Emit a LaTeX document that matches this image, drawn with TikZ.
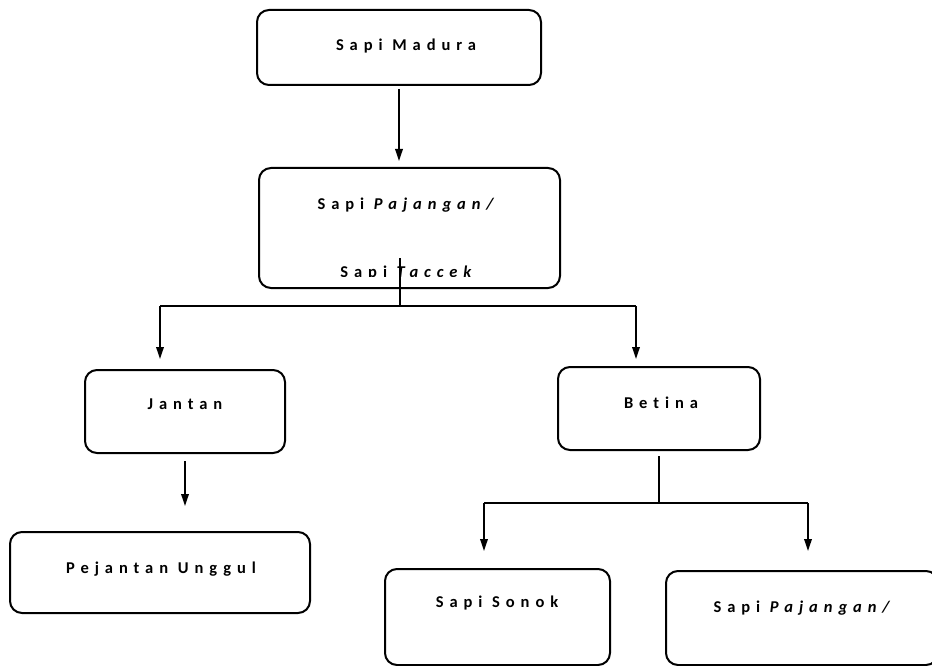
\documentclass[tikz,border=0pt]{standalone}
\usepackage{fontspec}
\setmainfont{Carlito}[LetterSpace=36,Ligatures={NoCommon,NoRare}]
\usetikzlibrary{arrows.meta,calc}
\begin{document}
\begin{tikzpicture}[x=1pt,y=-1pt,
  box/.style={draw,line width=2pt,rounded corners=12pt,inner sep=0pt},
  lbl/.style={font=\bfseries\fontsize{16.5}{19}\selectfont,anchor=base,inner sep=0pt},
  conn/.style={line width=1.8pt},
  arr/.style={conn,-{Triangle[length=12pt,width=7.5pt]}}]
\useasboundingbox (0,0) rectangle (932,666);
% boxes
\node[box,minimum width=284pt,minimum height=75pt] (b1) at (399,47.5) {};
\node[box,minimum width=301pt,minimum height=120pt] (b2) at (409.5,228) {};
\node[box,minimum width=200pt,minimum height=83pt] (jantan) at (185,411.5) {};
\node[box,minimum width=300pt,minimum height=81pt] (pejantan) at (160,572.5) {};
\node[box,minimum width=202pt,minimum height=83pt] (betina) at (659,408.5) {};
\node[box,minimum width=225pt,minimum height=96pt] (sonok) at (497.5,617) {};
\node[box,minimum width=272pt,minimum height=94pt] (pajangan) at (802,618) {};
% labels
\node[lbl] (t1) at (406,51) {Sapi Madura};
\node[lbl] (t2) at (409,209) {Sapi \textit{Pajangan/}};
\begin{scope}
  \clip (0,0) rectangle (932,276.5);
  \node[lbl] (t3) at (409,277) {Sapi \textit{Taccek}};
\end{scope}
\node[lbl] (t4) at (185,409) {Jantan};
\node[lbl] (t5) at (161,573) {Pejantan Unggul};
\node[lbl] (t6) at (661,408) {Betina};
\node[lbl] (t7) at (497,607) {Sapi Sonok};
\node[lbl] (t8) at (805,612) {Sapi \textit{Pajangan/}};
% connectors
\draw[arr,shorten <=3pt,shorten >=6pt] (b1.south) -- (b1.south |- b2.north);
\coordinate (s2) at (400,258);
\coordinate (j1) at (400,306);
\coordinate (jl) at (160,306);
\coordinate (jr) at (636,306);
\draw[conn] (s2) -- (j1);
\draw[conn] (jl) -- (jr);
\draw[arr,shorten >=10pt] (jl) -- (jl |- jantan.north);
\draw[arr,shorten >=7pt] (jr) -- (jr |- betina.north);
\draw[arr,shorten <=7pt,shorten >=25pt] (jantan.south) -- (jantan.south |- pejantan.north);
\coordinate (k1) at (659,503);
\coordinate (kl) at (484,503);
\coordinate (kr) at (808,503);
\draw[conn,shorten <=5pt] (betina.south) -- (k1);
\draw[conn] (kl) -- (kr);
\draw[arr,shorten >=17pt] (kl) -- (kl |- sonok.north);
\draw[arr,shorten >=19pt] (kr) -- (kr |- pajangan.north);
\end{tikzpicture}
\end{document}
